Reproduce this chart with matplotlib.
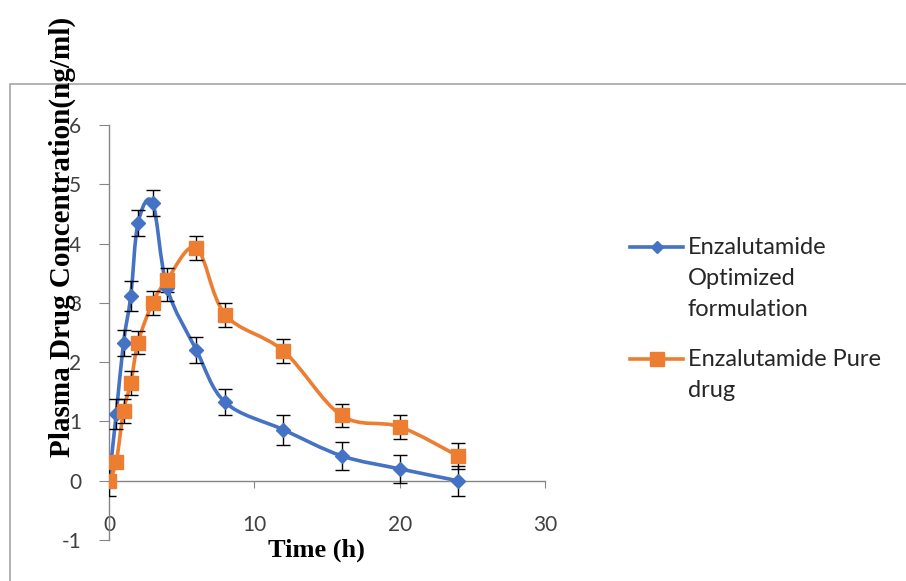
import numpy as np
import matplotlib.pyplot as plt
from matplotlib.path import Path
from matplotlib.patches import PathPatch, Rectangle
from matplotlib.lines import Line2D

plt.rcParams["axes.unicode_minus"] = False

time_h = [0, 0.5, 1, 1.5, 2, 3, 4, 6, 8, 12, 16, 20, 24]
optimized = [0, 1.13, 2.33, 3.12, 4.35, 4.69, 3.25, 2.21, 1.32, 0.86, 0.42, 0.20, 0.0]
optimized_err = [0.25, 0.25, 0.22, 0.25, 0.22, 0.22, 0.22, 0.22, 0.22, 0.25, 0.24, 0.24, 0.25]
pure = [0, 0.32, 1.18, 1.65, 2.33, 3.00, 3.39, 3.93, 2.80, 2.19, 1.10, 0.91, 0.42]
pure_err = [0.05, 0.1, 0.2, 0.2, 0.2, 0.2, 0.2, 0.2, 0.2, 0.2, 0.2, 0.2, 0.22]

labels = ["Enzalutamide\nOptimized\nformulation", "Enzalutamide Pure\ndrug"]
blue = "#4472C4"
orange = "#ED7D31"

W, H = 906, 581


def smooth_path(x, y):
    # excel-style smoothed line drawn as bezier segments through the points
    x = np.asarray(x, float)
    y = np.asarray(y, float)
    n = len(x)
    verts = [(x[0], y[0])]
    codes = [Path.MOVETO]
    for i in range(n - 1):
        i0 = max(i - 1, 0)
        i3 = min(i + 2, n - 1)
        c1 = (x[i] + (x[i + 1] - x[i0]) / 6, y[i] + (y[i + 1] - y[i0]) / 6)
        c2 = (x[i + 1] - (x[i3] - x[i]) / 6, y[i + 1] - (y[i3] - y[i]) / 6)
        verts += [c1, c2, (x[i + 1], y[i + 1])]
        codes += [Path.CURVE4] * 3
    return Path(verts, codes)


fig = plt.figure(figsize=(W / 100, H / 100), dpi=100)
ax = fig.add_axes([109 / W, 1 - 540 / H, 436 / W, 415 / H])

# outer chart border
fig.patches.append(Rectangle((10 / W, -0.01), 1.0, 1 - 84 / H + 0.01,
                             transform=fig.transFigure, fill=False,
                             edgecolor="#A6A6A6", linewidth=1.2))

series = [(optimized, optimized_err, blue, "D", 7), (pure, pure_err, orange, "s", 10)]
for vals, err, col, mk, ms in series:
    ax.add_patch(PathPatch(smooth_path(time_h, vals), fill=False,
                           edgecolor=col, linewidth=2.6, zorder=2))
    ax.errorbar(time_h, vals, yerr=err, fmt="none", ecolor="black",
                elinewidth=1, capsize=5, capthick=1, zorder=3)
    ax.plot(time_h, vals, linestyle="none", marker=mk, markersize=ms,
            color=col, zorder=4)

ax.set_xlim(0, 30)
ax.set_ylim(-1, 6)
ax.set_xticks([0, 10, 20, 30])
ax.set_yticks(range(-1, 7))

for s in ["top", "right"]:
    ax.spines[s].set_visible(False)
ax.spines["bottom"].set_position(("data", 0))
for s in ["left", "bottom"]:
    ax.spines[s].set_color("#868686")
    ax.spines[s].set_linewidth(1)

ax.tick_params(axis="x", direction="out", length=5, color="#868686",
               pad=20, labelsize=15)
ax.tick_params(axis="y", direction="out", length=7, color="#868686",
               pad=13, labelsize=15)
for t in ax.get_xticklabels() + ax.get_yticklabels():
    t.set_fontfamily("Lato")
    t.set_color("#404040")

fig.text(316 / W, 1 - 550 / H, "Time (h)", ha="center", va="center",
         fontsize=19, fontweight="bold", family="Liberation Serif")
fig.text(62 / W, 1 - 237 / H, "Plasma Drug Concentration(ng/ml)",
         ha="center", va="center", rotation=90, fontsize=21,
         fontweight="bold", family="Liberation Serif")

# legend drawn by hand so the marker sits on the first text line
legend_rows = [(labels[0], blue, "D", 6, 247), (labels[1], orange, "s", 10, 359)]
for lab, col, mk, ms, ypx in legend_rows:
    yf = 1 - ypx / H
    fig.add_artist(Line2D([630 / W, 683 / W], [yf, yf], transform=fig.transFigure,
                          color=col, linewidth=2.6))
    fig.add_artist(Line2D([657 / W], [yf], transform=fig.transFigure,
                          color=col, marker=mk, markersize=ms, linestyle="none"))
    for k, line in enumerate(lab.split("\n")):
        fig.text(688 / W, 1 - (ypx + 31.5 * k) / H, line, ha="left",
                 va="center", fontsize=17, family="Lato", color="#262626")

fig.savefig("out.png", dpi=100)
